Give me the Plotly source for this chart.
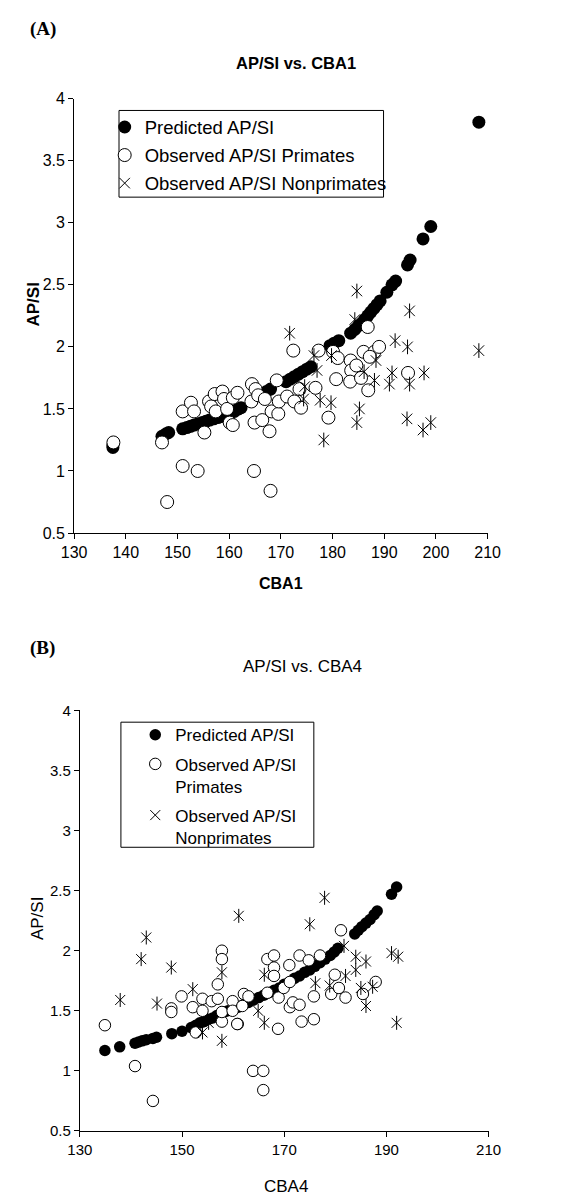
import plotly.graph_objects as go

W, H = 578, 1204

# ---------------- Panel A data (CBA1) ----------------
pred_a_x = [137.5, 137.5, 147.0, 147.8, 148.3, 151.0, 151.8, 152.5, 153.2, 154.0, 154.8, 155.5,
            156.2, 157.0, 157.8, 158.6, 159.4, 160.2, 161.0, 161.8, 162.3, 166.5, 167.2, 168.0,
            171.0, 171.8, 172.6, 173.4, 174.2, 175.0, 175.8, 179.5, 180.3, 181.2, 183.5, 184.3,
            185.0, 185.6, 186.2, 186.8, 187.4, 188.0, 188.6, 189.2, 190.5, 191.5, 192.2, 194.5,
            195.0, 197.5, 199.0, 208.3]
pred_a_y = [1.19, 1.21, 1.28, 1.30, 1.31, 1.34, 1.35, 1.36, 1.37, 1.38, 1.39, 1.40,
            1.41, 1.42, 1.43, 1.44, 1.45, 1.47, 1.48, 1.50, 1.51, 1.62, 1.64, 1.66,
            1.72, 1.74, 1.76, 1.78, 1.80, 1.82, 1.84, 2.01, 2.03, 2.05, 2.11, 2.14,
            2.17, 2.19, 2.22, 2.25, 2.28, 2.31, 2.34, 2.37, 2.44, 2.50, 2.53, 2.66,
            2.70, 2.87, 2.97, 3.81]

prim_a_x = [137.6, 147.0, 148.0, 151.0, 153.9, 151.0, 152.6, 153.2, 155.2, 156.1, 156.5, 157.2,
            157.4, 158.7, 159.0, 159.6, 160.1, 160.7, 160.7, 161.6, 164.4, 165.1, 164.3, 164.9,
            164.8, 165.6, 166.4, 166.9, 167.8, 168.0, 168.2, 169.2, 169.5, 169.6, 171.2, 172.4,
            172.6, 173.9, 173.6, 176.7, 179.2, 180.1, 181.0, 180.7, 183.5, 183.6, 183.4, 184.6,
            186.0, 185.5, 186.8, 186.9, 188.1, 189.0, 194.6, 177.3, 187.2]
prim_a_y = [1.23, 1.23, 0.75, 1.04, 1.00, 1.48, 1.55, 1.48, 1.31, 1.56, 1.52, 1.62,
            1.48, 1.64, 1.58, 1.50, 1.39, 1.37, 1.59, 1.63, 1.70, 1.66, 1.56, 1.39,
            1.00, 1.61, 1.41, 1.58, 1.32, 0.84, 1.48, 1.73, 1.46, 1.56, 1.60, 1.97,
            1.56, 1.51, 1.66, 1.67, 1.43, 1.96, 1.91, 1.74, 1.89, 1.81, 1.72, 1.85,
            1.96, 1.75, 2.16, 1.65, 1.96, 2.00, 1.79, 1.97, 1.92]

nonp_a_x = [171.7, 176.4, 177.0, 174.6, 174.4, 177.6, 178.3, 179.7, 179.8, 184.7, 184.3, 184.7,
            185.2, 186.1, 188.4, 188.1, 191.0, 191.5, 192.1, 194.5, 194.9, 194.9, 194.4, 197.7,
            197.5, 199.0, 208.3]
nonp_a_y = [2.11, 1.93, 1.81, 1.68, 1.58, 1.57, 1.25, 1.55, 1.93, 2.45, 2.22, 1.39,
            1.50, 1.80, 1.89, 1.73, 1.70, 1.79, 2.05, 2.00, 2.29, 1.70, 1.42, 1.79,
            1.33, 1.39, 1.97]

# ---------------- Panel B data (CBA4) ----------------
pred_b_x = [134.9, 137.8, 140.8, 141.5, 142.2, 143.0, 144.3, 145.0, 148.0, 150.0, 151.8, 152.7,
            153.5, 154.3, 155.2, 156.0, 156.8, 157.5, 158.3, 159.0, 160.0, 161.0, 162.0, 163.0,
            164.0, 165.0, 166.0, 167.0, 168.0, 169.0, 170.0, 171.0, 172.0, 173.0, 174.0, 175.0,
            176.0, 177.0, 178.0, 179.0, 179.8, 180.5, 183.8, 184.5, 185.2, 186.0, 186.8, 187.6,
            188.2, 191.0, 192.0]
pred_b_y = [1.17, 1.20, 1.23, 1.24, 1.25, 1.26, 1.27, 1.28, 1.31, 1.33, 1.36, 1.38,
            1.40, 1.41, 1.43, 1.44, 1.46, 1.47, 1.49, 1.50, 1.52, 1.53, 1.55, 1.57,
            1.59, 1.61, 1.63, 1.65, 1.67, 1.69, 1.72, 1.74, 1.77, 1.79, 1.82, 1.84,
            1.87, 1.90, 1.93, 1.96, 1.99, 2.02, 2.14, 2.17, 2.20, 2.23, 2.26, 2.30,
            2.33, 2.47, 2.53]

prim_b_x = [134.9, 140.8, 144.3, 147.9, 147.9, 163.9, 165.9, 165.9, 168.8, 173.4, 175.8, 160.9,
            157.8, 152.7, 149.9, 152.1, 154.0, 154.0, 155.8, 157.0, 157.8, 157.8, 157.0, 157.8,
            159.9, 159.9, 161.8, 162.1, 163.0, 160.8, 166.7, 166.7, 168.0, 168.0, 168.0, 168.9,
            169.9, 171.0, 171.1, 171.1, 171.7, 173.0, 173.0, 174.8, 175.8, 177.0, 179.2, 179.9,
            181.1, 182.0, 185.4, 187.9, 180.7]
prim_b_y = [1.38, 1.04, 0.75, 1.52, 1.49, 1.00, 1.00, 0.84, 1.35, 1.41, 1.43, 1.39,
            1.41, 1.32, 1.62, 1.53, 1.60, 1.50, 1.58, 1.60, 2.00, 1.93, 1.72, 1.49,
            1.58, 1.50, 1.54, 1.64, 1.62, 1.39, 1.65, 1.93, 1.96, 1.86, 1.79, 1.61,
            1.69, 1.88, 1.74, 1.53, 1.57, 1.55, 1.96, 1.92, 1.62, 1.96, 1.64, 1.80,
            2.17, 1.61, 1.64, 1.74, 1.69]

nonp_b_x = [137.9, 142.0, 143.0, 145.1, 147.9, 152.1, 154.0, 155.2, 157.8, 157.8, 161.1, 164.9,
            166.1, 166.1, 175.0, 177.9, 176.1, 178.9, 181.7, 182.0, 184.0, 184.0, 185.0, 186.0,
            186.0, 187.3, 191.0, 192.3, 192.0]
nonp_b_y = [1.59, 1.93, 2.11, 1.56, 1.86, 1.68, 1.32, 1.40, 1.82, 1.25, 2.29, 1.50,
            1.80, 1.40, 2.22, 2.44, 1.73, 1.71, 2.04, 1.79, 1.95, 1.84, 1.69, 1.91,
            1.54, 1.70, 1.98, 1.95, 1.40]

x_ticks_a = [130, 140, 150, 160, 170, 180, 190, 200, 210]
x_ticks_b = [130, 150, 170, 190, 210]
y_ticks = [0.5, 1, 1.5, 2, 2.5, 3, 3.5, 4]
y_tick_text = ["0.5", "1", "1.5", "2", "2.5", "3", "3.5", "4"]

FONT = "Liberation Sans, Arial, sans-serif"
SERIF = "Liberation Serif, Times New Roman, serif"

fig = go.Figure()

def add_panel(px, py, cx, cy, sx, sy, xa, ya, leg, msize, ssize, names):
    fig.add_trace(go.Scatter(x=px, y=py, mode="markers", name=names[0], xaxis=xa, yaxis=ya,
                             legend=leg, legendgroup=leg + "p",
                             marker=dict(symbol="circle", size=msize, color="black",
                                         line=dict(width=0))))
    fig.add_trace(go.Scatter(x=cx, y=cy, mode="markers", name=names[1], xaxis=xa, yaxis=ya,
                             legend=leg, legendgroup=leg + "o",
                             marker=dict(symbol="circle", size=msize, color="white",
                                         line=dict(width=1, color="black"))))
    fig.add_trace(go.Scatter(x=sx, y=sy, mode="markers", name=names[2], xaxis=xa, yaxis=ya,
                             legend=leg, legendgroup=leg + "n",
                             marker=dict(symbol="x-thin-open", size=ssize, color="black",
                                         line=dict(width=1, color="black"))))
    fig.add_trace(go.Scatter(x=sx, y=sy, mode="markers", name=names[2], xaxis=xa, yaxis=ya,
                             legend=leg, legendgroup=leg + "n", showlegend=False,
                             marker=dict(symbol="line-ns-open", size=ssize, color="black",
                                         line=dict(width=1, color="black"))))

add_panel(pred_a_x, pred_a_y, prim_a_x, prim_a_y, nonp_a_x, nonp_a_y, "x", "y", "legend", 13, 10.5,
          ["Predicted AP/SI", "Observed AP/SI Primates", "Observed AP/SI Nonprimates"])
add_panel(pred_b_x, pred_b_y, prim_b_x, prim_b_y, nonp_b_x, nonp_b_y, "x2", "y2", "legend2", 11.5, 10,
          ["Predicted AP/SI", "Observed AP/SI<br>Primates", "Observed AP/SI<br>Nonprimates"])

axis_common = dict(showline=True, linecolor="black", linewidth=1, ticks="outside", ticklen=5,
                   tickcolor="black", showgrid=False, zeroline=False, mirror=False)

fig.update_layout(
    width=W, height=H, margin=dict(l=0, r=0, t=0, b=0),
    paper_bgcolor="white", plot_bgcolor="white",
    font=dict(family=FONT, color="black"),
    xaxis=dict(domain=[64 / W, 497 / W], range=[130, 210], tickvals=x_ticks_a, anchor="y",
               tickfont=dict(size=16), **axis_common),
    yaxis=dict(domain=[1 - 532 / H, 1 - 91 / H], range=[0.5, 4], tickvals=y_ticks,
               ticktext=y_tick_text, anchor="x", tickfont=dict(size=16), **axis_common),
    xaxis2=dict(domain=[70 / W, 498 / W], range=[130, 210], tickvals=x_ticks_b, anchor="y2",
                tickfont=dict(size=15), **axis_common),
    yaxis2=dict(domain=[1 - 1139 / H, 1 - 712 / H], range=[0.5, 4], tickvals=y_ticks,
                ticktext=y_tick_text, anchor="x2", tickfont=dict(size=15), **axis_common),
    legend=dict(x=96 / W, y=1 - 101 / H, xanchor="left", yanchor="top",
                bgcolor="rgba(0,0,0,0)", borderwidth=0, font=dict(size=18.5, family=FONT),
                tracegroupgap=1, itemwidth=30),
    legend2=dict(x=128 / W, y=1 - 719 / H, xanchor="left", yanchor="top",
                 bgcolor="rgba(0,0,0,0)", borderwidth=0, font=dict(size=17, family=FONT),
                 tracegroupgap=4, itemwidth=30, valign="top"),
    showlegend=True,
)

# legend boxes
fig.add_shape(type="rect", xref="paper", yref="paper", x0=111 / W, x1=388 / W,
              y0=1 - 191 / H, y1=1 - 103 / H, line=dict(color="black", width=1))
fig.add_shape(type="rect", xref="paper", yref="paper", x0=113 / W, x1=315 / W,
              y0=1 - 851 / H, y1=1 - 724 / H, line=dict(color="black", width=1))

def ann(text, x, y, size, family=FONT, angle=0):
    fig.add_annotation(text=text, x=x / W, y=1 - y / H, xref="paper", yref="paper",
                       xanchor="center", yanchor="middle", showarrow=False, textangle=angle,
                       font=dict(size=size, family=family, color="black"))

ann("<b>(A)</b>", 31, 20, 19, SERIF)
ann("<b>AP/SI vs. CBA1</b>", 296, 55, 16.5)
ann("<b>CBA1</b>", 281, 583, 16)
ann("<b>AP/SI</b>", 22, 300, 17, angle=-90)
ann("<b>(B)</b>", 31, 649, 19, SERIF)
ann("AP/SI vs. CBA4", 303, 667, 17)
ann("CBA4", 286, 1195, 17)
ann("AP/SI", 25, 923, 17, angle=-90)

fig.write_html("out.html", config={"displayModeBar": False},
               post_script="document.body.style.margin='0';document.body.style.overflow='hidden';")
